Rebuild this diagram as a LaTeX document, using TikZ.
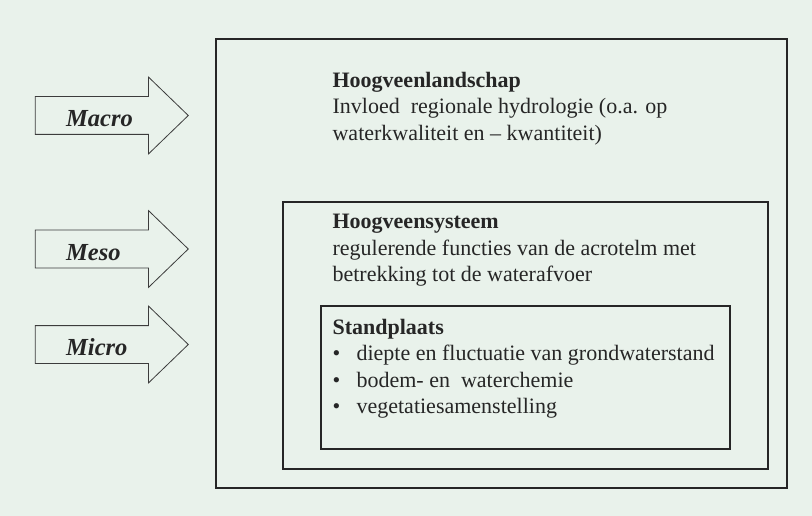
\documentclass[tikz,border=0pt]{standalone}
\usepackage{fontspec}
\setmainfont{Liberation Serif}
\usetikzlibrary{positioning,shapes.arrows,shadows}
\definecolor{bgmint}{HTML}{E9F2EB}
\definecolor{linegray}{HTML}{262626}
\tikzstyle{frame} = [draw=linegray, line width=1.2pt, fill=bgmint, drop shadow={shadow xshift=1pt, shadow yshift=-1pt, fill=black!40}]
\tikzstyle{boxtext} = [inner sep=0pt, align=left, text=linegray, font=\fontsize{22}{26.5}\selectfont]
\tikzstyle{scalearrow} = [single arrow, draw=linegray!90, line width=0.8pt, single arrow head extend=19.5pt, single arrow tip angle=88, minimum height=153pt, inner xsep=0pt, inner ysep=18.5pt, text height=0pt, text depth=0pt]
\tikzstyle{scalelabel} = [anchor=base west, inner sep=0pt, text=linegray, font=\fontsize{24.5}{28}\selectfont\bfseries\itshape]

\begin{document}
\begin{tikzpicture}[x=1pt, y=-1pt]
    % Background
    \fill[bgmint] (0,0) rectangle (812,516);
    \useasboundingbox (0,0) rectangle (812,516);
    % Place nested boxes
    \node [frame, minimum width=571pt, minimum height=449pt] (landschap) at (501.5,263.5) {};
    \node [frame, minimum width=485pt, minimum height=267pt] (systeem) at (525.5,335.5) {};
    \node [frame, minimum width=409pt, minimum height=143pt] (standplaats) at (525.5,377.5) {};
    % Box texts
    \node [boxtext, below right=33.5pt and 117pt of landschap.north west] (landschap-text)
        {\textbf{Hoogveenlandschap}\\Invloed\ \ regionale hydrologie (o.a. op\\waterkwaliteit en -- kwantiteit)};
    \node [boxtext, below right=12.5pt and 50pt of systeem.north west] (systeem-text)
        {\textbf{Hoogveensysteem}\\regulerende functies van de acrotelm met\\betrekking tot de waterafvoer};
    \node [boxtext, below right=13.5pt and 12pt of standplaats.north west] (standplaats-text)
        {\textbf{Standplaats}\\
         \makebox[24pt][l]{\textbullet}diepte en fluctuatie van grondwaterstand\\
         \makebox[24pt][l]{\textbullet}bodem- en\ \ waterchemie\\
         \makebox[24pt][l]{\textbullet}vegetatiesamenstelling};
    % Scale arrows
    \node [scalearrow] (macro) at (102,115.5) {};
    \node [scalearrow] (meso) at (102,249) {};
    \node [scalearrow] (micro) at (102,344.5) {};
    \node [scalelabel] (macro-text) at (66,127) {Macro};
    \node [scalelabel] (meso-text) at (66,260) {Meso};
    \node [scalelabel] (micro-text) at (66,355) {Micro};
\end{tikzpicture}
\end{document}
